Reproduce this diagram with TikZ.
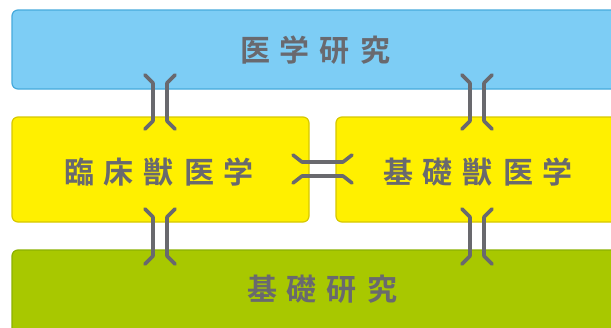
\documentclass[tikz,border=0pt]{standalone}
\usepackage{fontspec}
\newfontfamily\jpfont{Noto Sans CJK JP Bold}
\definecolor{skyfill}{RGB}{125,205,245}
\definecolor{skyline}{RGB}{70,170,220}
\definecolor{yelfill}{RGB}{255,240,0}
\definecolor{yelline}{RGB}{215,200,0}
\definecolor{grnfill}{RGB}{168,200,0}
\definecolor{grnline}{RGB}{140,178,0}
\definecolor{txtgray}{RGB}{105,105,110}
\newcommand{\gp}{\hspace{10pt}}
\begin{document}
\begin{tikzpicture}[x=1pt,y=-1pt,
  boxbase/.style={rounded corners=6pt, line width=1.2pt},
  bluebox/.style={boxbase, fill=skyfill, draw=skyline},
  yelbox/.style={boxbase, fill=yelfill, draw=yelline},
  grnbox/.style={boxbase, fill=grnfill, draw=grnline},
  lbl/.style={font=\jpfont\fontsize{30}{30}\selectfont, text=txtgray, inner sep=0pt},
  brk/.style={draw=txtgray, line width=3.6pt, line cap=round, line join=round}]
\useasboundingbox (0,0) rectangle (611,327);
\clip (0,0) rectangle (611,327);
\fill[white] (0,0) rectangle (611,327);
% boxes
\draw[bluebox] (12,10) rectangle (620,89);
\draw[yelbox] (12,117) rectangle (309,222);
\draw[yelbox] (336,117) rectangle (620,222);
\draw[grnbox] (12,250) rectangle (632,340);
% labels
\node[lbl] (top) at (315,50) {医\gp 学\gp 研\gp 究};
\node[lbl] (ml) at (159,172) {臨\gp 床\gp 獣\gp 医\gp 学};
\node[lbl] (mr) at (478,172) {基\gp 礎\gp 獣\gp 医\gp 学};
\node[lbl] (bot) at (322,289) {基\gp 礎\gp 研\gp 究};
% bracket coordinates
\foreach \cx/\nm in {160/a, 477/b} {
  \coordinate (\nm1) at (\cx-15,75);
  \coordinate (\nm2) at (\cx-7,83);
  \coordinate (\nm3) at (\cx-7,121);
  \coordinate (\nm4) at (\cx-15,129);
  \coordinate (\nm5) at (\cx+15,75);
  \coordinate (\nm6) at (\cx+7,83);
  \coordinate (\nm7) at (\cx+7,121);
  \coordinate (\nm8) at (\cx+15,129);
  \draw[brk] (\nm1) -- (\nm2) -- (\nm3) -- (\nm4);
  \draw[brk] (\nm5) -- (\nm6) -- (\nm7) -- (\nm8);
}
\foreach \cx/\nm in {160/c, 477/d} {
  \coordinate (\nm1) at (\cx-15,209);
  \coordinate (\nm2) at (\cx-7,217);
  \coordinate (\nm3) at (\cx-7,256);
  \coordinate (\nm4) at (\cx-15,264);
  \coordinate (\nm5) at (\cx+15,209);
  \coordinate (\nm6) at (\cx+7,217);
  \coordinate (\nm7) at (\cx+7,256);
  \coordinate (\nm8) at (\cx+15,264);
  \draw[brk] (\nm1) -- (\nm2) -- (\nm3) -- (\nm4);
  \draw[brk] (\nm5) -- (\nm6) -- (\nm7) -- (\nm8);
}
\coordinate (h1) at (293,155);
\coordinate (h2) at (302,162);
\coordinate (h3) at (343,162);
\coordinate (h4) at (352,155);
\coordinate (h5) at (293,183);
\coordinate (h6) at (302,176);
\coordinate (h7) at (343,176);
\coordinate (h8) at (352,183);
\draw[brk] (h1) -- (h2) -- (h3) -- (h4);
\draw[brk] (h5) -- (h6) -- (h7) -- (h8);
\end{tikzpicture}
\end{document}
